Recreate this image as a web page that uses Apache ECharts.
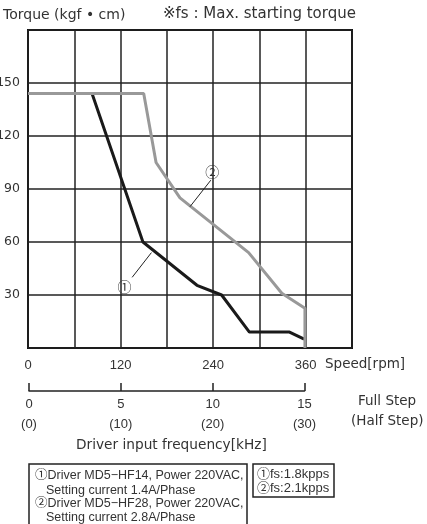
<!DOCTYPE html>
<html>
<head>
<meta charset="utf-8">
<script src="https://cdn.jsdelivr.net/npm/echarts@6/dist/echarts.min.js"></script>
<style>
html, body { margin: 0; padding: 0; background: #fff; }
#main { width: 427px; height: 524px; }
</style>
</head>
<body>
<div id="main"></div>
<script>
// curve ①  (MD5-HF14, 1.4A)
var speed1 = [0, 83, 149, 219, 251, 287, 339, 358];
var torque1 = [144, 144, 60, 35.5, 30, 9, 9, 5];
// curve ②  (MD5-HF28, 2.8A)
var speed2 = [0, 150, 166, 197, 286, 329, 359, 359];
var torque2 = [144, 144, 105, 85, 54, 31, 22.5, 0];

var speedLabels = [0, 120, 240, 360];
var torqueLabels = [30, 60, 90, 120, 150];
var freqTicks = [0, 5, 10, 15];

var NUMFONT = 'Liberation Sans, Noto Sans CJK KR, sans-serif';
var FONT = 'DejaVu Sans, Noto Sans CJK KR, sans-serif';

function pairs(xs, ys) {
    var out = [];
    for (var i = 0; i < xs.length; i++) out.push([xs[i], ys[i]]);
    return out;
}

var option = {
    animation: false,
    textStyle: { fontFamily: NUMFONT },
    grid: [
        { left: 28, top: 30, width: 324, height: 318, show: true, borderColor: '#111', borderWidth: 2, outerBoundsMode: 'none', containLabel: false },
        { left: 29, top: 391, width: 275.5, height: 0, outerBoundsMode: 'none', containLabel: false }
    ],
    xAxis: [{
        gridIndex: 0,
        type: 'value',
        min: 0, max: 420, interval: 60,
        axisLine: { show: false },
        axisTick: { show: false },
        splitLine: { show: true, lineStyle: { color: '#222', width: 1.5 } },
        axisLabel: {
            margin: 11, color: '#333', fontSize: 13, fontFamily: NUMFONT,
            formatter: function (v) { return speedLabels.indexOf(v) >= 0 ? String(v) : ''; }
        }
    }, {
        gridIndex: 1,
        type: 'value',
        min: 0, max: 15, interval: 5,
        axisLine: { show: true, onZero: false, lineStyle: { color: '#222', width: 1.5 } },
        axisTick: { show: true, inside: true, length: 8, lineStyle: { color: '#222', width: 1.5 } },
        splitLine: { show: false },
        axisLabel: {
            margin: 3, color: '#333', fontSize: 13, lineHeight: 20, fontFamily: NUMFONT,
            formatter: function (v) { return freqTicks.indexOf(v) >= 0 ? v + '\n(' + (v * 2) + ')' : ''; }
        }
    }],
    yAxis: [{
        gridIndex: 0,
        type: 'value',
        min: 0, max: 180, interval: 30,
        axisLine: { show: false },
        axisTick: { show: false },
        splitLine: { show: true, lineStyle: { color: '#222', width: 1.5 } },
        axisLabel: {
            margin: 8, color: '#333', fontSize: 12.5, fontFamily: FONT,
            formatter: function (v) { return torqueLabels.indexOf(v) >= 0 ? String(v) : ''; }
        }
    }, {
        gridIndex: 1, type: 'value', show: false, min: 0, max: 1
    }],
    series: [{
        name: '1',
        type: 'line',
        xAxisIndex: 0, yAxisIndex: 0,
        data: pairs(speed1, torque1),
        symbol: 'none',
        lineStyle: { color: '#1a1a1a', width: 3 },
        z: 3,
        markLine: {
            silent: true, symbol: 'none',
            label: { show: false },
            lineStyle: { color: '#222', width: 1, type: 'solid' },
            data: [[{ coord: [135, 40] }, { coord: [160, 54] }]]
        },
        markPoint: {
            silent: true,
            symbol: 'circle', symbolSize: 1,
            itemStyle: { color: 'rgba(0,0,0,0)' },
            label: { show: true, position: 'inside', formatter: '①', color: '#333', fontSize: 14, fontFamily: NUMFONT },
            data: [{ coord: [125, 34] }]
        }
    }, {
        name: '2',
        type: 'line',
        xAxisIndex: 0, yAxisIndex: 0,
        data: pairs(speed2, torque2),
        symbol: 'none',
        lineStyle: { color: '#999', width: 3 },
        z: 4,
        markLine: {
            silent: true, symbol: 'none',
            label: { show: false },
            lineStyle: { color: '#222', width: 1, type: 'solid' },
            data: [[{ coord: [237, 95] }, { coord: [210, 80] }]]
        },
        markPoint: {
            silent: true,
            symbol: 'circle', symbolSize: 1,
            itemStyle: { color: 'rgba(0,0,0,0)' },
            label: { show: true, position: 'inside', formatter: '②', color: '#333', fontSize: 14, fontFamily: NUMFONT },
            data: [{ coord: [239, 99] }]
        }
    }],
    graphic: [
        { type: 'text', left: 3, top: 8, style: { text: 'Torque (kgf \u2022 cm)', fontSize: 14, fill: '#333', fontFamily: FONT } },
        { type: 'text', left: 163, top: 7, style: { text: '\u203bfs : Max. starting torque', fontSize: 15, fill: '#333', fontFamily: FONT } },
        { type: 'text', left: 325, top: 358, style: { text: 'Speed[rpm]', fontSize: 13.5, fill: '#333', fontFamily: FONT } },
        { type: 'text', left: 358, top: 395, style: { text: 'Full Step', fontSize: 13.5, fill: '#333', fontFamily: FONT } },
        { type: 'text', left: 351, top: 415, style: { text: '(Half Step)', fontSize: 13.5, fill: '#333', fontFamily: FONT } },
        { type: 'text', left: 76, top: 439, style: { text: 'Driver input frequency[kHz]', fontSize: 13.7, fill: '#333', fontFamily: FONT } },
        { type: 'rect', shape: { x: 29, y: 464, width: 218, height: 70 }, style: { fill: '#fff', stroke: '#222', lineWidth: 1.5 } },
        { type: 'text', x: 35, y: 469, style: { text: '\u2460Driver MD5\u2212HF14, Power 220VAC,', fontSize: 12.5, fill: '#333', fontFamily: NUMFONT } },
        { type: 'text', x: 46, y: 484, style: { text: 'Setting current 1.4A/Phase', fontSize: 12.5, fill: '#333', fontFamily: NUMFONT } },
        { type: 'text', x: 35, y: 497, style: { text: '\u2461Driver MD5\u2212HF28, Power 220VAC,', fontSize: 12.5, fill: '#333', fontFamily: NUMFONT } },
        { type: 'text', x: 46, y: 511, style: { text: 'Setting current 2.8A/Phase', fontSize: 12.5, fill: '#333', fontFamily: NUMFONT } },
        { type: 'rect', shape: { x: 253, y: 464, width: 81, height: 33 }, style: { fill: '#fff', stroke: '#222', lineWidth: 1.5 } },
        { type: 'text', x: 257, y: 468, style: { text: '\u2460fs:1.8kpps', fontSize: 13, fill: '#333', fontFamily: NUMFONT } },
        { type: 'text', x: 257, y: 482, style: { text: '\u2461fs:2.1kpps', fontSize: 13, fill: '#333', fontFamily: NUMFONT } }
    ]
};

var chart = echarts.init(document.getElementById('main'));
chart.setOption(option);
</script>
</body>
</html>
